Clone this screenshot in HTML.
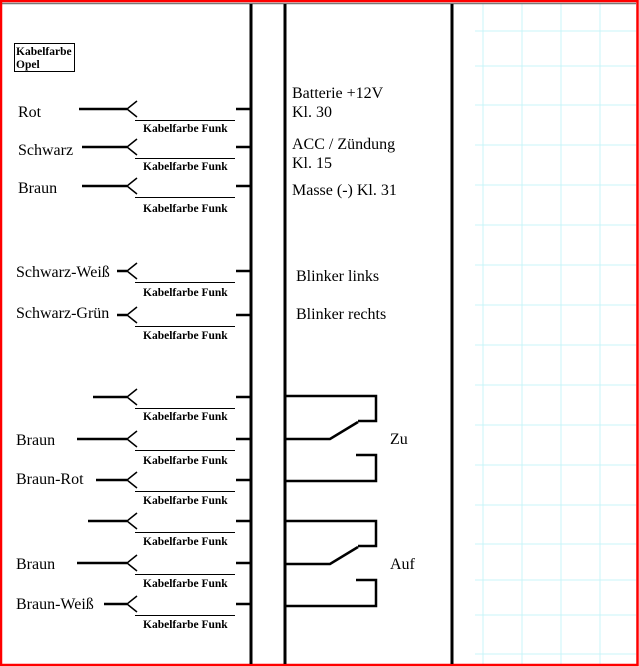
<!DOCTYPE html>
<html><head><meta charset="utf-8"><style>
body{margin:0;width:639px;height:667px;overflow:hidden;background:#fff}
svg{display:block}
text{font-family:"Liberation Serif",serif}
.l{font-size:16px}
.s{font-size:11.5px;font-weight:bold}
</style></head><body>
<svg width="639" height="667" xmlns="http://www.w3.org/2000/svg">
<g stroke="#c8f4f8" stroke-width="1">
<line x1="483" y1="4" x2="483" y2="664"/><line x1="522" y1="4" x2="522" y2="664"/>
<line x1="561" y1="4" x2="561" y2="664"/><line x1="600" y1="4" x2="600" y2="664"/>
<line x1="475" y1="31" x2="636" y2="31"/><line x1="475" y1="66" x2="636" y2="66"/>
<line x1="475" y1="105" x2="636" y2="105"/><line x1="475" y1="145" x2="636" y2="145"/>
<line x1="475" y1="185" x2="636" y2="185"/><line x1="475" y1="225" x2="636" y2="225"/>
<line x1="475" y1="265" x2="636" y2="265"/><line x1="475" y1="305" x2="636" y2="305"/>
<line x1="475" y1="345" x2="636" y2="345"/><line x1="475" y1="385" x2="636" y2="385"/>
<line x1="475" y1="425" x2="636" y2="425"/><line x1="475" y1="465" x2="636" y2="465"/>
<line x1="475" y1="505" x2="636" y2="505"/><line x1="475" y1="544" x2="636" y2="544"/>
<line x1="475" y1="580" x2="636" y2="580"/><line x1="475" y1="615" x2="636" y2="615"/>
<line x1="475" y1="654" x2="636" y2="654"/>
</g>
<line x1="2" y1="3.5" x2="636" y2="3.5" stroke="#777" stroke-width="1.5"/>
<rect x="1" y="1" width="636.5" height="664" fill="none" stroke="#f00" stroke-width="2.5"/>
<g stroke="#000" stroke-width="3">
<line x1="251" y1="4" x2="251" y2="664"/><line x1="285" y1="4" x2="285" y2="664"/><line x1="452" y1="4" x2="452" y2="664"/>
</g>
<rect x="14.5" y="43.5" width="60" height="28" fill="none" stroke="#000"/>
<text x="16" y="55" class="s">Kabelfarbe</text><text x="16" y="68" class="s">Opel</text>
<g stroke="#000" fill="none" stroke-width="2.5">
<path d="M79 109H127M82 147H127M82 186H127M117 271H127M117 315H127M93 397H127M77 439H127M96 480H127M88 521H127M77 563H127M104 604H127"/>
<path d="M236 109H251M236 147H251M236 186H251M236 271H251M236 315H251M236 397H251M236 439H251M236 480H251M236 521H251M236 563H251M236 604H251"/>
</g>
<g stroke="#000" fill="none" stroke-width="1.5">
<path d="M137 101L127 109L137 117M137 139L127 147L137 155M137 178L127 186L137 194M137 263L127 271L137 279M137 307L127 315L137 323M137 389L127 397L137 405M137 431L127 439L137 447M137 472L127 480L137 488M137 513L127 521L137 529M137 555L127 563L137 571M137 596L127 604L137 612"/>
</g>
<g stroke="#000" stroke-width="1">
<path d="M135 120.5H235M135 158.5H235M135 197.5H235M135 282.5H235M135 326.5H235M135 408.5H235M135 450.5H235M135 491.5H235M135 532.5H235M135 574.5H235M135 615.5H235"/>
</g>
<text x="143" y="132" class="s">Kabelfarbe Funk</text><text x="143" y="170" class="s">Kabelfarbe Funk</text>
<text x="143" y="212" class="s">Kabelfarbe Funk</text><text x="143" y="296" class="s">Kabelfarbe Funk</text>
<text x="143" y="339" class="s">Kabelfarbe Funk</text><text x="143" y="420" class="s">Kabelfarbe Funk</text>
<text x="143" y="464" class="s">Kabelfarbe Funk</text><text x="143" y="504" class="s">Kabelfarbe Funk</text>
<text x="143" y="545" class="s">Kabelfarbe Funk</text><text x="143" y="587" class="s">Kabelfarbe Funk</text>
<text x="143" y="628" class="s">Kabelfarbe Funk</text>
<text x="18" y="117" class="l">Rot</text><text x="18" y="155" class="l">Schwarz</text>
<text x="18" y="193" class="l">Braun</text><text x="16" y="277" class="l">Schwarz-Weiß</text>
<text x="16" y="318" class="l">Schwarz-Grün</text><text x="16" y="445" class="l">Braun</text>
<text x="16" y="484" class="l">Braun-Rot</text><text x="16" y="569" class="l">Braun</text>
<text x="16" y="609" class="l">Braun-Weiß</text>
<text x="292" y="98" class="l">Batterie +12V</text><text x="292" y="117" class="l">Kl. 30</text>
<text x="292" y="149" class="l">ACC / Zündung</text><text x="292" y="168" class="l">Kl. 15</text>
<text x="292" y="195" class="l">Masse (-) Kl. 31</text>
<text x="296" y="281" class="l">Blinker links</text><text x="296" y="319" class="l">Blinker rechts</text>
<text x="390" y="444" class="l">Zu</text><text x="390" y="569" class="l">Auf</text>
<g stroke="#000" fill="none" stroke-width="2.5">
<path d="M285 396H376V421H358M285 439H330L358 422M356 455H376V481H285"/>
<path d="M285 521H376V546H358M285 564H330L358 547M356 580H376V606H285"/>
</g>
</svg>
</body></html>
